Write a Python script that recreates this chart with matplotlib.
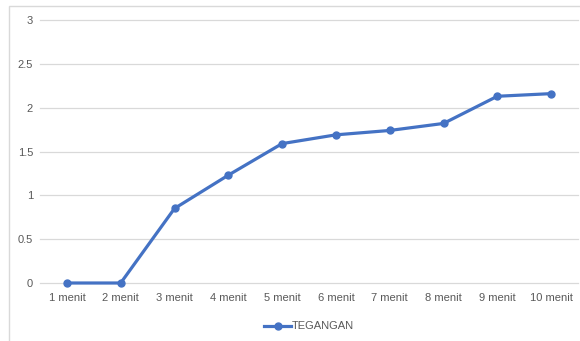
import matplotlib
matplotlib.use("Agg")
from matplotlib import pyplot as plt
from matplotlib.patches import Rectangle

labels = ['1 menit', '2 menit', '3 menit', '4 menit', '5 menit',
          '6 menit', '7 menit', '8 menit', '9 menit', '10 menit']
tegangan = [0, 0, 0.85, 1.23, 1.59, 1.69, 1.74, 1.82, 2.13, 2.16]
yticks = [0, 0.5, 1, 1.5, 2, 2.5, 3]
ytick_labels = ['0', '0.5', '1', '1.5', '2', '2.5', '3']

plt.rcParams['font.family'] = ['Liberation Sans', 'DejaVu Sans']
text_color = '#595959'
blue = '#4472C4'

fig = plt.figure(figsize=(5.8, 3.41), dpi=100)

# chart area border (partly cropped in the reference)
fig.patches.append(Rectangle((9 / 580, -0.1), 1.2, 1 - 6 / 341 + 0.1,
                             transform=fig.transFigure, fill=False,
                             edgecolor='#d9d9d9', linewidth=1))

ax = fig.add_axes([40 / 580, 1 - 283 / 341, 538 / 580, 263 / 341])
x = list(range(len(labels)))
ax.plot(x, tegangan, color=blue, linewidth=2.3, marker='o', markersize=5,
        label='TEGANGAN', clip_on=False, zorder=3)

ax.set_xlim(-0.5, len(labels) - 0.5)
ax.set_ylim(0, 3)
ax.set_yticks(yticks)
ax.set_yticklabels(ytick_labels)
ax.set_xticks(x)
ax.set_xticklabels(labels)
ax.tick_params(axis='both', length=0, labelsize=8, labelcolor=text_color)
ax.tick_params(axis='y', pad=5)
ax.tick_params(axis='x', pad=7)
ax.grid(axis='y', color='#d9d9d9', linewidth=0.9)
ax.set_axisbelow(True)
for gl in ax.get_ygridlines():
    gl.set_clip_on(False)
for s in ax.spines.values():
    s.set_visible(False)

leg = ax.legend(loc='center', bbox_to_anchor=(0.5, -0.165), frameon=False,
                fontsize=8, handlelength=2.4, handletextpad=0.05,
                labelcolor=text_color)

fig.savefig('out.png', dpi=100)
